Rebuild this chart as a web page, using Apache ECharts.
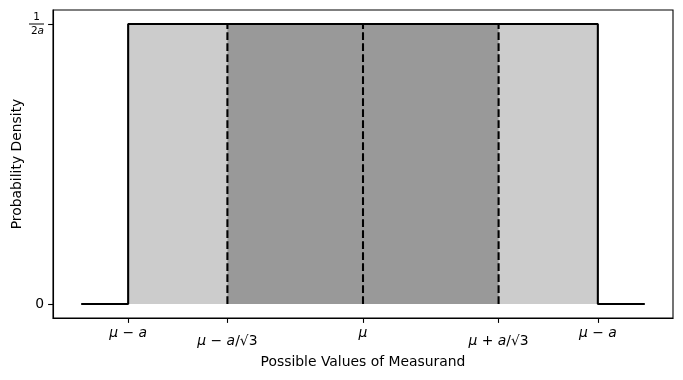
<!DOCTYPE html>
<html>
<head>
<meta charset="utf-8">
<script src="https://cdn.jsdelivr.net/npm/echarts@6/dist/echarts.min.js"></script>
<style>html,body{margin:0;padding:0;background:#fff}#c{width:683px;height:380px}</style>
</head>
<body>
<div id="c"></div>
<script>
// Uniform distribution with a = 1, mu = 0
var r3 = 1 / Math.sqrt(3);
var density = 0.5;                       // 1/(2a)
var pdfLine = [[-1.2, 0], [-1, 0], [-1, 0.5], [1, 0.5], [1, 0], [1.2, 0]];
var outerFill = [[-1, 0.5], [1, 0.5]];
var innerFill = [[-r3, 0.5], [r3, 0.5]];
var dashX = [-r3, 0, r3];
var xTickValues = [-1, -r3, 0, r3, 1];
var xTickLabels = ['{i|μ} − {i|a}', '{si|μ}{s| − }{si|a}{s|/√3}', '{i|μ}', '{si|μ}{s| + }{si|a}{s|/√3}', '{i|μ} − {i|a}'];
var yTickValues = [0, 0.5];

var F = 'DejaVu Sans';
var series = [
  {type: 'line', data: outerFill, symbol: 'none', lineStyle: {width: 0}, areaStyle: {color: '#cccccc', opacity: 1}, z: 1, silent: true},
  {type: 'line', data: innerFill, symbol: 'none', lineStyle: {width: 0}, areaStyle: {color: '#999999', opacity: 1}, z: 2, silent: true},
  {type: 'line', data: pdfLine, symbol: 'none', lineStyle: {color: '#000', width: 2.08}, z: 3, silent: true}
];
dashX.forEach(function (x) {
  series.push({type: 'line', data: [[x, 0], [x, density]], symbol: 'none',
    lineStyle: {color: '#000', width: 2.08, type: [7.7, 3.3]}, z: 4, silent: true});
});

var chart = echarts.init(document.getElementById('c'));
chart.setOption({
  animation: false,
  grid: {left: 53, right: 10, top: 10, bottom: 62, outerBoundsMode: 'none', containLabel: false, show: true, borderColor: '#000', borderWidth: 1.1, backgroundColor: 'transparent'},
  xAxis: {
    type: 'value', min: -1.32, max: 1.32,
    name: 'Possible Values of Measurand', nameLocation: 'middle', nameGap: 37, nameMoveOverlap: false,
    nameTextStyle: {fontFamily: F, fontSize: 13.9, color: '#000'},
    axisLine: {show: true, onZero: false, lineStyle: {color: '#000', width: 1.1}},
    splitLine: {show: false},
    axisTick: {show: true, length: 4.9, lineStyle: {color: '#000', width: 1.1}, customValues: xTickValues},
    axisLabel: {
      customValues: xTickValues, margin: 8, color: '#000', fontFamily: F, fontSize: 13.9,
      formatter: function (v) {
        var best = 0, d = 1e9;
        xTickValues.forEach(function (t, i) { if (Math.abs(t - v) < d) { d = Math.abs(t - v); best = i; } });
        return xTickLabels[best];
      },
      rich: {
        i: {fontStyle: 'italic', fontFamily: F, fontSize: 13.9, color: '#000'},
        si: {fontStyle: 'italic', fontFamily: F, fontSize: 13.9, color: '#000', lineHeight: 30},
        s: {fontFamily: F, fontSize: 13.9, color: '#000', lineHeight: 30}
      }
    }
  },
  yAxis: {
    type: 'value', min: -0.025, max: 0.525,
    name: 'Probability Density', nameLocation: 'middle', nameGap: 29, nameMoveOverlap: false,
    nameTextStyle: {fontFamily: F, fontSize: 13.9, color: '#000'},
    axisLine: {show: true, onZero: false, lineStyle: {color: '#000', width: 1.1}},
    splitLine: {show: false},
    axisTick: {show: true, length: 4.9, lineStyle: {color: '#000', width: 1.1}, customValues: yTickValues},
    axisLabel: {
      customValues: yTickValues, margin: 9, color: '#000', fontFamily: F, fontSize: 13.9,
      formatter: function (v) {
        if (v > 0.25) return '{n|1}\n{b|}\n{d|2}{di|a}';
        return '0';
      },
      rich: {
        n: {fontFamily: F, fontSize: 10.5, lineHeight: 11, color: '#000', align: 'center', width: 15},
        b: {width: 15, height: 1, lineHeight: 3, backgroundColor: '#000', align: 'center'},
        d: {fontFamily: F, fontSize: 10.5, lineHeight: 11, color: '#000'},
        di: {fontFamily: F, fontSize: 10.5, lineHeight: 11, color: '#000', fontStyle: 'italic'}
      }
    }
  },
  series: series
});
</script>
</body>
</html>
